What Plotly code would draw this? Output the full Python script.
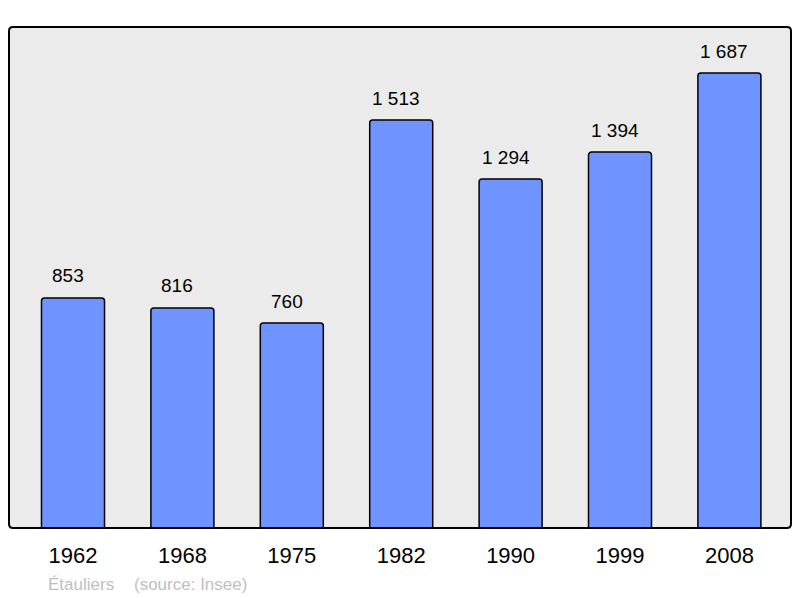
import plotly.graph_objects as go

years = ["1962", "1968", "1975", "1982", "1990", "1999", "2008"]
population = [853, 816, 760, 1513, 1294, 1394, 1687]
commune = "Étauliers"
source = "(source: Insee)"

def fmt(v):
    return f"{v:,}".replace(",", " ")

xs = list(range(len(years)))

fig = go.Figure()
fig.add_trace(go.Bar(
    x=xs, y=population, width=0.576,
    marker=dict(color="#7094ff", line=dict(color="black", width=1.5), cornerradius=3),
    hoverinfo="skip",
))

for x, v in zip(xs, population):
    fig.add_annotation(x=x, y=v, text=fmt(v), showarrow=False, yanchor="middle",
                       yshift=22, xshift=-5,
                       font=dict(size=19, color="black", family="Liberation Sans"))

fig.update_layout(
    width=800, height=598,
    margin=dict(l=9, r=9, t=27, b=70),
    paper_bgcolor="white", plot_bgcolor="#ebebeb",
    showlegend=False,
    font=dict(family="Liberation Sans", color="black"),
    xaxis=dict(range=[-0.585, 6.563], tickmode="array", tickvals=xs, ticktext=years,
               showgrid=False, zeroline=False, showline=False, ticks="",
               tickfont=dict(size=22), ticklabelstandoff=12, fixedrange=True),
    yaxis=dict(range=[0, 1858], showgrid=False, zeroline=False, showline=False,
               showticklabels=False, ticks="", fixedrange=True),
)

fig.add_annotation(x=0, y=0, xref="paper", yref="paper", showarrow=False,
                   text=commune, xanchor="left", yanchor="middle",
                   xshift=37, yshift=-56,
                   font=dict(size=17, color="#c0c0c0"))
fig.add_annotation(x=0, y=0, xref="paper", yref="paper", showarrow=False,
                   text=source, xanchor="left", yanchor="middle",
                   xshift=123, yshift=-56,
                   font=dict(size=17, color="#c0c0c0"))

# rounded frame around the plot area
r = 4 / 782
ry = 4 / 501
path = (f"M {r},0 L {1-r},0 Q 1,0 1,{ry} L 1,{1-ry} Q 1,1 {1-r},1 "
        f"L {r},1 Q 0,1 0,{1-ry} L 0,{ry} Q 0,0 {r},0 Z")
fig.add_shape(type="path", path=path, xref="paper", yref="paper",
              line=dict(color="black", width=2), layer="above")

fig.write_html("out.html", config={"displayModeBar": False},
               post_script="document.body.style.margin='0';")
